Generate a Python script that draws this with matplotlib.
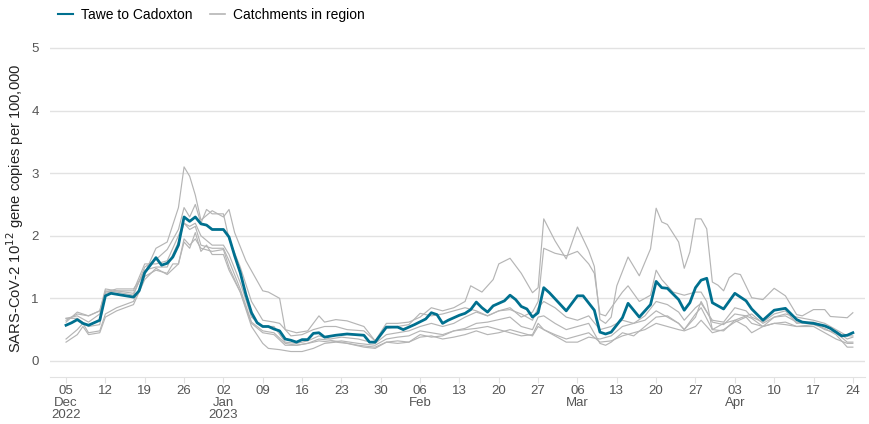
import matplotlib
matplotlib.use('Agg')
import matplotlib.pyplot as plt
from matplotlib.lines import Line2D
import pandas as pd

plt.rcParams['font.family'] = ['Liberation Sans', 'DejaVu Sans']

start = pd.Timestamp('2022-12-05')

# Tawe to Cadoxton (day offset from 5 Dec 2022, value)
main_days = [0, 1, 2, 3, 4, 6, 7, 8, 12, 13, 14, 16, 17, 18, 19, 20, 21, 22, 23, 24, 25, 26,
             28, 29, 30, 31, 32, 33, 34, 35, 36, 37, 38, 39, 40, 41, 42, 43, 44, 45, 46, 48,
             50, 53, 54, 55, 57, 59, 60, 62, 64, 65, 66, 67, 68, 70, 71, 72, 73, 74, 75, 76,
             78, 79, 80, 81, 82, 83, 84, 85, 86, 89, 91, 92, 94, 95, 96, 97, 99, 100, 102, 104,
             105, 106, 107, 109, 110, 111, 112, 113, 114, 115, 117, 119, 121, 122, 124, 126, 128,
             130, 131, 133, 135, 136, 138, 139, 140]
main_vals = [0.57, 0.61, 0.66, 0.60, 0.57, 0.65, 1.04, 1.08, 1.02, 1.12, 1.41, 1.65, 1.53, 1.56,
             1.66, 1.85, 2.30, 2.23, 2.30, 2.19, 2.17, 2.10, 2.10, 1.98, 1.68, 1.41, 1.06, 0.77,
             0.61, 0.55, 0.55, 0.51, 0.48, 0.35, 0.33, 0.30, 0.34, 0.34, 0.44, 0.45, 0.38, 0.41,
             0.43, 0.41, 0.30, 0.30, 0.54, 0.54, 0.50, 0.58, 0.67, 0.77, 0.74, 0.60, 0.65, 0.73,
             0.76, 0.82, 0.94, 0.85, 0.78, 0.88, 0.96, 1.05, 0.98, 0.87, 0.83, 0.70, 0.77, 1.17,
             1.09, 0.80, 1.04, 1.04, 0.81, 0.46, 0.43, 0.46, 0.69, 0.92, 0.70, 0.90, 1.27, 1.17,
             1.16, 0.98, 0.81, 0.93, 1.17, 1.29, 1.32, 0.93, 0.83, 1.08, 0.96, 0.83, 0.65, 0.81,
             0.84, 0.66, 0.62, 0.60, 0.56, 0.52, 0.40, 0.41, 0.45]

# other catchments in the region
g1_days = [0, 2, 4, 6, 7, 9, 12, 14, 16, 18, 20, 21, 22, 23, 24, 26, 28, 29, 30, 32, 34, 35, 36,
           38, 39, 41, 43, 45, 46, 48, 50, 53, 55, 57, 59, 61, 63, 65, 67, 69, 71, 72, 74, 76,
           77, 79, 81, 83, 84, 85, 87, 89, 91, 93, 94, 95, 96, 97, 98, 100, 102, 104, 105, 106,
           107, 109, 110, 111, 112, 113, 114, 115, 116, 117, 118, 119, 120, 122, 124, 126, 128,
           130, 131, 133, 135, 136, 139, 140]
g1_vals = [0.65, 0.75, 0.72, 0.80, 1.10, 1.15, 1.15, 1.40, 1.80, 1.90, 2.45, 3.10, 2.95, 2.65,
           2.25, 2.40, 2.30, 2.42, 2.05, 1.60, 1.28, 1.12, 1.10, 1.00, 0.50, 0.45, 0.48, 0.72,
           0.62, 0.66, 0.64, 0.55, 0.32, 0.60, 0.60, 0.62, 0.70, 0.85, 0.80, 0.85, 0.95, 1.20,
           1.10, 1.30, 1.55, 1.64, 1.40, 1.09, 1.17, 2.27, 1.92, 1.63, 2.14, 1.76, 1.51, 0.66,
           0.60, 0.70, 1.20, 1.66, 1.36, 1.79, 2.44, 2.22, 2.18, 1.90, 1.48, 1.74, 2.27, 2.27,
           2.11, 1.26, 1.21, 1.12, 1.33, 1.40, 1.38, 1.01, 0.98, 1.16, 1.04, 0.74, 0.72, 0.82,
           0.82, 0.71, 0.69, 0.77]

g2_days = [0, 2, 4, 6, 7, 9, 12, 14, 16, 18, 20, 21, 22, 23, 24, 25, 26, 28, 29, 31, 33, 35, 37,
           38, 40, 42, 44, 46, 48, 50, 53, 55, 57, 59, 61, 63, 65, 67, 69, 71, 73, 75, 77, 79,
           81, 83, 84, 85, 87, 89, 91, 93, 94, 95, 96, 97, 99, 100, 102, 104, 105, 106, 108, 110,
           112, 113, 114, 115, 117, 119, 121, 122, 124, 126, 128, 130, 133, 135, 137, 139, 140]
g2_vals = [0.68, 0.72, 0.62, 0.75, 1.12, 1.10, 1.05, 1.50, 1.62, 1.78, 2.10, 2.45, 2.30, 2.50,
           2.20, 2.42, 2.35, 2.35, 1.95, 1.50, 0.95, 0.65, 0.62, 0.60, 0.40, 0.42, 0.50, 0.55,
           0.55, 0.50, 0.48, 0.32, 0.52, 0.55, 0.58, 0.76, 0.72, 0.75, 0.80, 0.85, 0.80, 0.72,
           0.80, 0.85, 0.70, 0.78, 0.95, 1.80, 1.72, 1.68, 1.75, 1.55, 1.40, 0.75, 0.72, 0.85,
           1.10, 1.20, 0.95, 1.05, 1.45, 1.30, 1.10, 1.05, 1.10, 1.10, 0.95, 0.50, 0.48, 0.65,
           0.72, 0.75, 0.60, 0.70, 0.75, 0.70, 0.65, 0.60, 0.50, 0.40, 0.40]

g3_days = [0, 2, 4, 6, 7, 9, 12, 14, 16, 18, 20, 21, 22, 23, 24, 26, 28, 29, 31, 33, 35, 37, 39,
           41, 43, 45, 47, 49, 52, 55, 57, 59, 61, 63, 65, 67, 69, 71, 73, 75, 77, 79, 81, 83,
           84, 85, 87, 89, 91, 93, 95, 97, 99, 101, 103, 105, 107, 109, 110, 112, 113, 115, 117,
           119, 121, 122, 124, 126, 128, 130, 133, 135, 137, 139, 140]
g3_vals = [0.62, 0.78, 0.72, 0.80, 1.15, 1.12, 1.12, 1.55, 1.55, 1.60, 2.00, 2.20, 2.15, 2.20,
           2.00, 1.85, 1.85, 1.70, 1.25, 0.70, 0.55, 0.55, 0.30, 0.28, 0.32, 0.40, 0.35, 0.38,
           0.35, 0.28, 0.42, 0.45, 0.48, 0.55, 0.60, 0.55, 0.60, 0.70, 0.78, 0.72, 0.80, 0.82,
           0.75, 0.65, 0.85, 0.95, 0.85, 0.70, 0.65, 0.72, 0.50, 0.55, 0.65, 0.60, 0.72, 0.95,
           0.90, 0.78, 0.65, 0.85, 0.92, 0.65, 0.62, 0.85, 0.80, 0.70, 0.62, 0.75, 0.80, 0.60,
           0.62, 0.55, 0.48, 0.35, 0.38]

g4_days = [0, 2, 3, 4, 6, 7, 9, 12, 14, 16, 18, 19, 20, 21, 22, 23, 24, 25, 26, 28, 29, 31, 33,
           35, 36, 38, 40, 42, 44, 46, 48, 50, 53, 55, 57, 59, 61, 63, 65, 67, 69, 71, 73, 75,
           77, 79, 81, 83, 84, 85, 87, 89, 91, 93, 95, 97, 99, 101, 103, 105, 107, 109, 110, 112,
           113, 115, 117, 119, 121, 122, 124, 126, 128, 130, 133, 135, 137, 139, 140]
g4_vals = [0.35, 0.50, 0.60, 0.45, 0.48, 0.75, 0.85, 0.95, 1.35, 1.45, 1.40, 1.55, 1.55, 1.90,
           1.80, 2.05, 1.75, 1.85, 1.70, 1.70, 1.45, 1.10, 0.55, 0.28, 0.20, 0.18, 0.15, 0.15,
           0.20, 0.28, 0.30, 0.28, 0.22, 0.20, 0.30, 0.32, 0.30, 0.42, 0.38, 0.40, 0.48, 0.50,
           0.52, 0.55, 0.50, 0.45, 0.40, 0.42, 0.60, 0.50, 0.40, 0.30, 0.30, 0.38, 0.35, 0.40,
           0.55, 0.60, 0.65, 0.80, 0.70, 0.60, 0.50, 0.75, 0.85, 0.50, 0.60, 0.65, 0.55, 0.45,
           0.55, 0.60, 0.62, 0.55, 0.55, 0.45, 0.35, 0.28, 0.28]

g5_days = [0, 2, 3, 4, 6, 7, 9, 12, 14, 16, 18, 20, 21, 22, 23, 24, 26, 28, 29, 31, 33, 35, 37,
           39, 41, 43, 45, 47, 49, 52, 55, 57, 59, 61, 63, 65, 67, 69, 71, 73, 75, 77, 79, 81,
           83, 84, 85, 87, 89, 91, 93, 95, 96, 97, 99, 101, 103, 105, 107, 109, 110, 112, 113,
           115, 117, 119, 121, 122, 124, 126, 128, 130, 133, 135, 137, 139, 140]
g5_vals = [0.30, 0.42, 0.55, 0.42, 0.45, 0.70, 0.80, 0.90, 1.30, 1.48, 1.38, 1.55, 1.95, 1.85,
           1.95, 1.80, 1.75, 1.78, 1.50, 1.10, 0.60, 0.45, 0.42, 0.25, 0.25, 0.28, 0.32, 0.30,
           0.32, 0.28, 0.25, 0.35, 0.38, 0.40, 0.48, 0.45, 0.42, 0.48, 0.52, 0.60, 0.62, 0.66,
           0.70, 0.55, 0.50, 0.70, 0.72, 0.60, 0.50, 0.55, 0.60, 0.28, 0.25, 0.30, 0.45, 0.40,
           0.55, 0.70, 0.72, 0.60, 0.50, 0.70, 0.95, 0.62, 0.58, 0.75, 0.72, 0.68, 0.55, 0.70,
           0.72, 0.62, 0.60, 0.50, 0.45, 0.30, 0.30]

g6_days = [0, 2, 4, 6, 7, 9, 12, 14, 16, 18, 20, 21, 22, 23, 24, 26, 28, 29, 31, 33, 35, 37, 39,
           41, 43, 45, 47, 49, 52, 55, 57, 59, 61, 63, 65, 67, 69, 71, 73, 75, 77, 79, 81, 83,
           84, 85, 87, 89, 91, 93, 95, 97, 99, 101, 103, 105, 107, 109, 110, 112, 113, 115, 117,
           119, 121, 122, 124, 126, 128, 130, 133, 135, 137, 139, 140]
g6_vals = [0.68, 0.68, 0.55, 0.58, 1.08, 1.12, 1.08, 1.45, 1.50, 1.50, 1.90, 2.20, 2.10, 2.15,
           1.85, 1.80, 1.80, 1.60, 1.15, 0.62, 0.48, 0.45, 0.28, 0.25, 0.28, 0.35, 0.33, 0.30,
           0.25, 0.22, 0.30, 0.28, 0.30, 0.38, 0.40, 0.35, 0.38, 0.42, 0.48, 0.42, 0.45, 0.50,
           0.45, 0.40, 0.55, 0.50, 0.42, 0.35, 0.40, 0.45, 0.30, 0.32, 0.40, 0.45, 0.50, 0.60,
           0.55, 0.50, 0.48, 0.55, 0.65, 0.45, 0.50, 0.62, 0.70, 0.60, 0.55, 0.60, 0.58, 0.55,
           0.58, 0.52, 0.42, 0.22, 0.22]

greys = [(g1_days, g1_vals), (g2_days, g2_vals), (g3_days, g3_vals),
         (g4_days, g4_vals), (g5_days, g5_vals), (g6_days, g6_vals)]

tick_labels = ['05\nDec\n2022', '12', '19', '26', '02\nJan\n2023', '09', '16', '23', '30',
               '06\nFeb', '13', '20', '27', '06\nMar', '13', '20', '27', '03\nApr', '10', '17', '24']

teal = '#00708f'
grey = '#b5b5b5'

fig = plt.figure(figsize=(8.7, 4.24), dpi=100)
ax = fig.add_axes([0.0575, 0.111, 0.937, 0.795])

def to_dates(days):
    return start + pd.to_timedelta(days, unit='D')

for d, v in greys:
    ax.plot(to_dates(d), v, color=grey, lw=0.85, zorder=2)
ax.plot(to_dates(main_days), main_vals, color=teal, lw=2, zorder=3)

ax.set_ylim(-0.256, 5.13)
ax.set_xlim(start - pd.Timedelta(days=2.85), start + pd.Timedelta(days=142.2))
ax.set_yticks([0, 1, 2, 3, 4, 5])
ax.grid(axis='y', color='#e2e2e2', lw=1)
ax.set_axisbelow(True)

ticks = pd.date_range(start, periods=len(tick_labels), freq='7D')
ax.set_xticks(ticks)
ax.set_xticklabels(tick_labels, linespacing=0.98)

for s in ['top', 'right', 'left']:
    ax.spines[s].set_visible(False)
ax.spines['bottom'].set_color('#e2e2e2')
ax.tick_params(axis='y', length=0, labelsize=9.5, labelcolor='#555555', pad=8)
ax.tick_params(axis='x', length=4, color='#e2e2e2', labelsize=9.5, labelcolor='#555555', pad=2)

ax.set_ylabel('SARS-CoV-2 10$^{12}$ gene copies per 100,000', fontsize=10.6, color='#222222',
              labelpad=4)

handles = [Line2D([], [], color=teal, lw=1.5), Line2D([], [], color=grey, lw=1.2)]
fig.legend(handles, ['Tawe to Cadoxton', 'Catchments in region'], loc='upper left',
           bbox_to_anchor=(0.052, 1.01), ncol=2, frameon=False, fontsize=10,
           handlelength=1.1, handletextpad=0.6, columnspacing=1.2)

fig.savefig('out.png', dpi=100)
